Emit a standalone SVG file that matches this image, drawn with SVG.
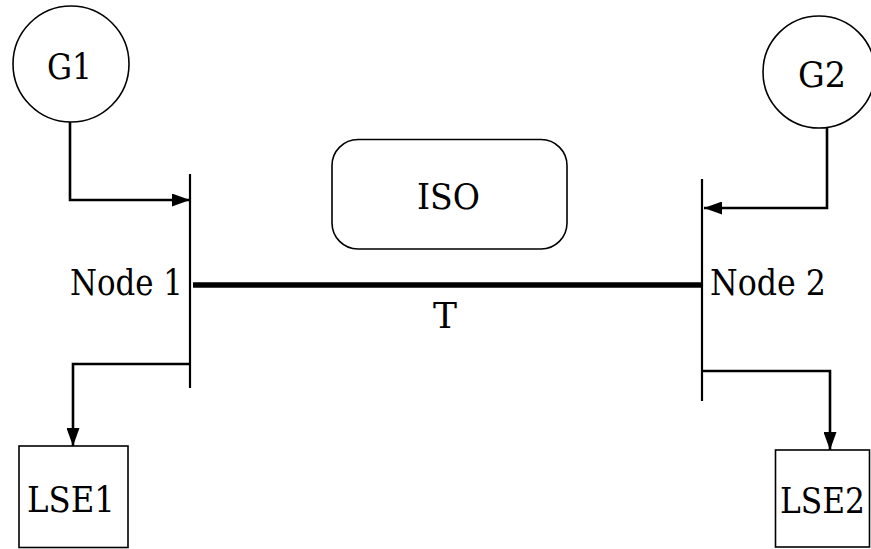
<svg xmlns="http://www.w3.org/2000/svg" width="871" height="549" viewBox="0 0 871 549">
<style>
text{font-family:"DejaVu Serif","Liberation Serif",serif;font-size:35px;fill:#000}
.shape{fill:#fff;stroke:#000;stroke-width:1.6}
.bus{stroke:#000;stroke-width:2.2;fill:none}
.conn{stroke:#000;stroke-width:2.6;fill:none}
</style>
<defs>
<marker id="arr" viewBox="0 0 18 13" refX="18" refY="6.5" markerWidth="18" markerHeight="13" markerUnits="userSpaceOnUse" orient="auto">
<path d="M0,0 L18,6.5 L0,13 Z" fill="#000"/>
</marker>
</defs>
<g id="G1"><circle class="shape" cx="71" cy="64" r="58"/><text x="47" y="79" textLength="45" lengthAdjust="spacingAndGlyphs">G1</text></g>
<g id="G2"><circle class="shape" cx="819" cy="72" r="56"/><text x="798" y="87" textLength="48" lengthAdjust="spacingAndGlyphs">G2</text></g>
<g id="ISO"><rect class="shape" x="332" y="139.5" width="235" height="109.5" rx="26"/><text x="417" y="209" textLength="63" lengthAdjust="spacingAndGlyphs">ISO</text></g>
<g id="Node1"><line class="bus" x1="190" y1="174" x2="190" y2="388"/><text x="70" y="295" textLength="113" lengthAdjust="spacingAndGlyphs">Node 1</text></g>
<g id="Node2"><line class="bus" x1="702" y1="179" x2="702" y2="401"/><text x="710" y="295" textLength="116" lengthAdjust="spacingAndGlyphs">Node 2</text></g>
<g id="LSE1"><rect class="shape" x="19" y="446" width="109" height="101.5"/><text x="27" y="512" textLength="88" lengthAdjust="spacingAndGlyphs">LSE1</text></g>
<g id="LSE2"><rect class="shape" x="775.5" y="450" width="94" height="97"/><text x="780" y="512.5" textLength="85" lengthAdjust="spacingAndGlyphs">LSE2</text></g>
<g id="connectors">
<line x1="193" y1="285" x2="702" y2="285" stroke="#000" stroke-width="5.5"/>
<text x="433" y="328" textLength="24" lengthAdjust="spacingAndGlyphs">T</text>
<polyline class="conn" points="70,122 70,200 190,200" marker-end="url(#arr)"/>
<polyline class="conn" points="827,128 827,208 704,208" marker-end="url(#arr)"/>
<polyline class="conn" points="190,364 73,364 73,446" marker-end="url(#arr)"/>
<polyline class="conn" points="702,371 830,371 830,450" marker-end="url(#arr)"/>
</g>
</svg>
